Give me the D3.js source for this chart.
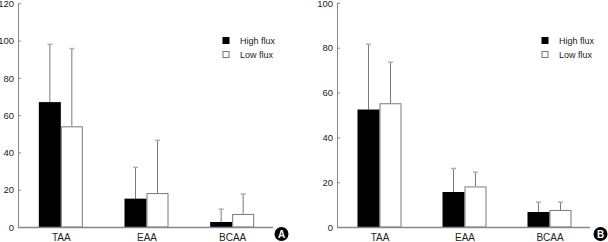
<!DOCTYPE html>
<html>
<head>
<meta charset="utf-8">
<script src="https://cdn.jsdelivr.net/npm/d3@7"></script>
<style>
  body { margin: 0; background: #fff; }
  svg text { font-family: "Liberation Sans Narrow", "Liberation Sans", Arial, sans-serif; fill: #222; }
</style>
</head>
<body>
<div id="chart"></div>
<script>
const categories = ["TAA", "EAA", "BCAA"];
const seriesNames = ["High flux", "Low flux"];

// panel A
const meanA_high = [67, 15.2, 2.7];
const meanA_low = [54, 18.2, 7];
const errA_high = [98, 32, 9.6];
const errA_low = [95.7, 46.5, 17.7];
const ticksA = [0, 20, 40, 60, 80, 100, 120];

// panel B
const meanB_high = [52.4, 15.6, 6.7];
const meanB_low = [55.2, 18.1, 7.6];
const errB_high = [81.5, 26.1, 11.1];
const errB_low = [73.5, 24.5, 11.1];
const ticksB = [0, 20, 40, 60, 80, 100];

const width = 608, height = 242;
const svg = d3.select('#chart').append('svg')
    .attr('width', width)
    .attr('height', height);

function drawPanel(opts) {
    const { x0, x1, yMax, yTop, ticks, high, low, highErr, lowErr, tag } = opts;
    const bottom = 227;
    const barW = 22;

    const g = svg.append('g');

    const xScale = d3.scalePoint()
        .domain(categories)
        .range([x0, x1])
        .padding(0.5);

    const sub = d3.scaleBand()
        .domain(seriesNames)
        .range([-barW, barW]);

    const yScale = d3.scaleLinear()
        .domain([0, yMax])
        .range([bottom, yTop]);

    const rows = [];
    categories.forEach((c, i) => {
        rows.push({ cat: c, s: seriesNames[0], v: high[i], e: highErr[i] });
        rows.push({ cat: c, s: seriesNames[1], v: low[i], e: lowErr[i] });
    });

    // error whiskers
    g.selectAll('line.err')
        .data(rows)
        .enter()
        .append('line')
        .attr('class', 'err')
        .attr('x1', d => xScale(d.cat) + sub(d.s) + barW / 2)
        .attr('x2', d => xScale(d.cat) + sub(d.s) + barW / 2)
        .attr('y1', d => yScale(d.v))
        .attr('y2', d => yScale(d.e))
        .attr('stroke', '#7a7a7a')
        .attr('stroke-width', 1);

    g.selectAll('line.cap')
        .data(rows)
        .enter()
        .append('line')
        .attr('class', 'cap')
        .attr('x1', d => xScale(d.cat) + sub(d.s) + barW / 2 - 2.5)
        .attr('x2', d => xScale(d.cat) + sub(d.s) + barW / 2 + 2.5)
        .attr('y1', d => yScale(d.e))
        .attr('y2', d => yScale(d.e))
        .attr('stroke', '#b0b0b0')
        .attr('stroke-width', 1.5);

    // bars
    g.selectAll('rect.bar')
        .data(rows)
        .enter()
        .append('rect')
        .attr('class', 'bar')
        .attr('x', d => xScale(d.cat) + sub(d.s) + (d.s === seriesNames[1] ? 0.5 : 0))
        .attr('y', d => yScale(d.v) + (d.s === seriesNames[1] ? 0.5 : 0))
        .attr('width', d => d.s === seriesNames[1] ? barW - 1 : barW)
        .attr('height', d => bottom - yScale(d.v) - (d.s === seriesNames[1] ? 0.5 : 0))
        .attr('fill', d => d.s === seriesNames[0] ? '#000' : '#fff')
        .attr('stroke', d => d.s === seriesNames[0] ? 'none' : '#7a7a7a')
        .attr('stroke-width', 1);

    // y axis
    const yAxis = d3.axisRight(yScale)
        .tickValues(ticks)
        .tickSize(2.5)
        .tickFormat(d3.format('d'));

    const ya = g.append('g')
        .attr('transform', `translate(${x0 + 0.5},0)`)
        .call(yAxis);
    ya.select('.domain').remove();
    ya.selectAll('.tick line').attr('stroke', '#888');
    ya.selectAll('.tick text')
        .attr('x', -4.5)
        .attr('dy', '0.34em')
        .attr('text-anchor', 'end')
        .style('font-size', '9.5px');
    ya.append('line')
        .attr('x1', 0).attr('x2', 0)
        .attr('y1', yTop).attr('y2', bottom)
        .attr('stroke', '#888');

    // x axis
    const xAxis = d3.axisBottom(xScale).tickSize(0).tickPadding(7);
    const xa = g.append('g')
        .attr('transform', `translate(0,${bottom})`)
        .call(xAxis);
    xa.select('.domain').remove();
    xa.selectAll('.tick text').style('font-size', '10px').attr('dy', '0.71em');
    xa.append('line')
        .attr('x1', x0).attr('x2', x1 - 2)
        .attr('y1', 0.5).attr('y2', 0.5)
        .attr('stroke', '#888')
        .attr('stroke-width', 1.5);

    // legend
    const leg = g.append('g').attr('transform', `translate(${x0 + 204.5},37)`);
    seriesNames.forEach((s, i) => {
        leg.append('rect')
            .attr('x', 0.5).attr('y', i * 14 + 0.5)
            .attr('width', 6).attr('height', 6)
            .attr('fill', i === 0 ? '#000' : '#fff')
            .attr('stroke', i === 0 ? '#000' : '#777');
        leg.append('text')
            .attr('x', 17.5).attr('y', i * 14 + 6.5)
            .style('font-size', '9px')
            .text(s);
    });

    // panel tag
    const t = g.append('g').attr('transform', `translate(${x0 + 263.5},234)`);
    t.append('circle').attr('r', 7).attr('fill', '#000');
    t.append('text')
        .attr('text-anchor', 'middle')
        .attr('dy', '0.36em')
        .style('font-size', '10px')
        .style('font-weight', 'bold')
        .style('font-family', 'Liberation Sans, Arial, sans-serif')
        .style('fill', '#fff')
        .text(tag);
}

drawPanel({ x0: 18, x1: 275, yMax: 120, yTop: 3.3, ticks: ticksA,
    high: meanA_high, low: meanA_low, highErr: errA_high, lowErr: errA_low, tag: 'A' });
drawPanel({ x0: 337, x1: 592, yMax: 100, yTop: 2.8, ticks: ticksB,
    high: meanB_high, low: meanB_low, highErr: errB_high, lowErr: errB_low, tag: 'B' });
</script>
</body>
</html>
